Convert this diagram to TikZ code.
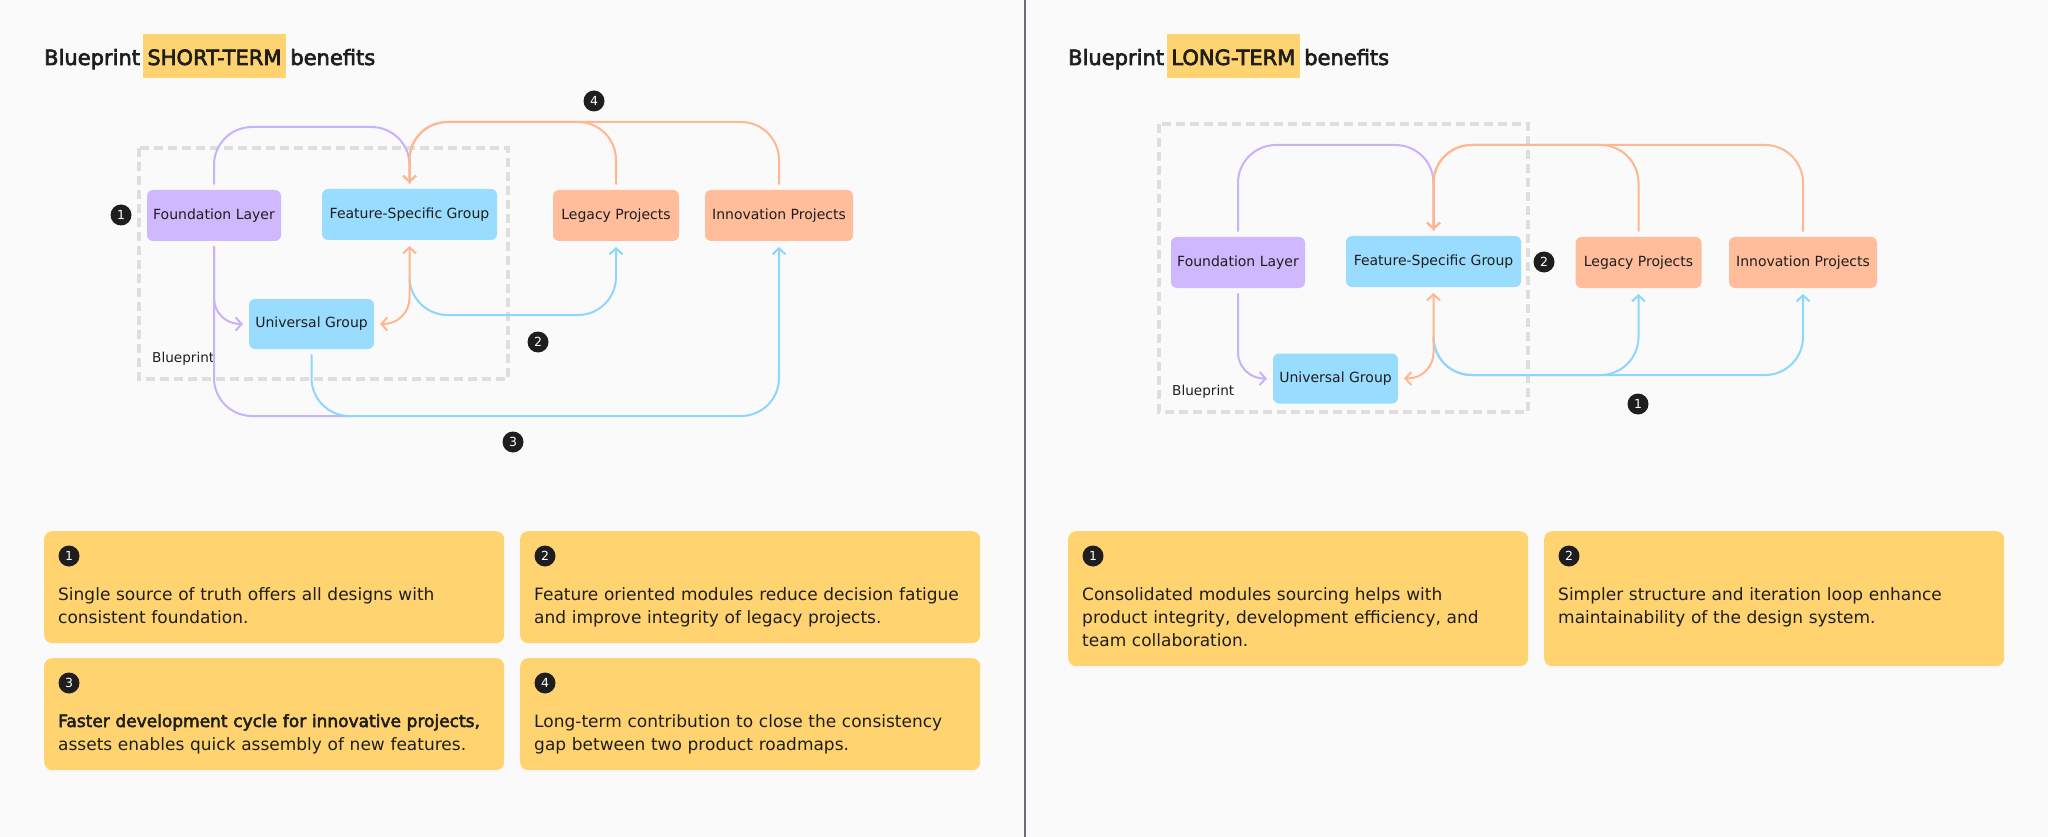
\documentclass[tikz,border=0pt]{standalone}
\usepackage{fontspec}
\setmainfont{DejaVu Sans}[BoldFont={DejaVu Sans},BoldFeatures={FakeBold=3}]
\usetikzlibrary{arrows.meta}
\definecolor{bg}{HTML}{FAFAFA}
\definecolor{purF}{HTML}{CFB8FD}
\definecolor{bluF}{HTML}{99DCFE}
\definecolor{oraF}{HTML}{FFBD9B}
\definecolor{yel}{HTML}{FFD470}
\definecolor{purL}{HTML}{C8B2FA}
\definecolor{bluL}{HTML}{8ED6FC}
\definecolor{oraL}{HTML}{FFB78F}
\definecolor{dashgray}{HTML}{DEDEDE}
\definecolor{ink}{HTML}{1E1E1E}
\definecolor{divc}{HTML}{6C6C78}
\tikzset{
  box/.style={rectangle, rounded corners=6pt, minimum height=51pt, inner sep=0pt, outer sep=6pt, text=ink, font=\fontsize{14}{17}\selectfont},
  conn/.style={line width=2pt, rounded corners=38pt, line cap=round, line join=round},
  arr/.style={-{Straight Barb[length=6pt,width=13pt]}},
  arrs/.style={{Straight Barb[length=6pt,width=13pt]}-{Straight Barb[length=6pt,width=13pt]}},
  badge/.style={circle, fill=ink, text=white, minimum size=21pt, inner sep=0pt, font=\fontsize{12.5}{13}\selectfont},
  dashbox/.style={draw=dashgray, line width=3.5pt, dash pattern=on 9pt off 5pt},
  lbl/.style={anchor=west, inner sep=0pt, text=ink, font=\fontsize{13.6}{16}\selectfont},
  title/.style={anchor=base west, inner sep=0pt, text=ink, font=\fontsize{21}{24}\selectfont\bfseries},
  hl/.style={fill=yel, inner xsep=4.5pt, inner ysep=0pt, text height=31pt, text depth=13pt},
  card/.style={rectangle, fill=yel, rounded corners=8pt, inner sep=0pt},
  ctext/.style={anchor=base west, inner sep=0pt, text=ink, align=left, text width=440pt, font=\fontsize{17}{23}\selectfont},
}
\begin{document}
\begin{tikzpicture}[x=1pt,y=-1pt]
\useasboundingbox[fill=bg] (0,0) rectangle (2048,837);
\draw[divc, line width=2pt] (1025,0) -- (1025,837);

% ---------- left panel ----------
\node[title] (tl1) at (44,65) {Blueprint};
\node[title, hl] (tl2) at ([xshift=2.5pt]tl1.base east) {SHORT-TERM};
\node[title] (tl3) at ([xshift=4pt]tl2.base east) {benefits};

\draw[dashbox] (139,148) rectangle (508,379);
\node[lbl] (bp1) at (152,359) {Blueprint};

\node[box, fill=purF, minimum width=134pt] (FL1) at (214,215.5) {Foundation Layer};
\node[box, fill=bluF, minimum width=175pt] (FS1) at (409.5,214.5) {Feature-Specific Group};
\node[box, fill=oraF, minimum width=126pt] (LP1) at (616,215.5) {Legacy Projects};
\node[box, fill=oraF, minimum width=148pt] (IP1) at (779,215.5) {Innovation Projects};
\node[box, fill=bluF, minimum width=125pt, minimum height=50pt] (UG1) at (311.5,324) {Universal Group};

\draw[conn, purL] (FL1.north) -- ++(0,-57) -| (FS1.north);
\draw[conn, oraL, arr] (LP1.north) -- ++(0,-62) -| (FS1.north);
\draw[conn, oraL, arr] (IP1.north) -- ++(0,-62) -| (FS1.north);
\draw[conn, purL] (FL1.south) -- ++(0,169) -- ++(138,0);
\draw[conn, purL, arr, rounded corners=26pt] (FL1.south) |- (UG1.west);
\draw[conn, bluL, arr] (UG1.south) -- ++(0,61) -| (IP1.south);
\draw[conn, bluL, arr] (FS1.south) ++(0,31) -- ++(0,38) -| (LP1.south);
\draw[conn, oraL, arrs, rounded corners=26pt] (FS1.south) |- (UG1.east);

\node[badge] (n1a) at (121,215) {1};
\node[badge] (n4a) at (594,101) {4};
\node[badge] (n2a) at (538,342) {2};
\node[badge] (n3a) at (513,442) {3};

\node[card, minimum width=460pt, minimum height=112pt, anchor=north west] (c1) at (44,531) {};
\node[card, minimum width=460pt, minimum height=112pt, anchor=north west] (c2) at (520,531) {};
\node[card, minimum width=460pt, minimum height=112pt, anchor=north west] (c3) at (44,658) {};
\node[card, minimum width=460pt, minimum height=112pt, anchor=north west] (c4) at (520,658) {};
\node[badge] (cb1) at (69,556) {1};
\node[badge] (cb2) at (545,556) {2};
\node[badge] (cb3) at (69,683) {3};
\node[badge] (cb4) at (545,683) {4};
\node[ctext] (ct1) at (58,600) {Single source of truth offers all designs with\\consistent foundation.};
\node[ctext] (ct2) at (534,600) {Feature oriented modules reduce decision fatigue\\and improve integrity of legacy projects.};
\node[ctext] (ct3) at (58,727) {\textbf{Faster development cycle for innovative projects,}\\assets enables quick assembly of new features.};
\node[ctext] (ct4) at (534,727) {Long-term contribution to close the consistency\\gap between two product roadmaps.};

% ---------- right panel ----------
\node[title] (tr1) at (1068,65) {Blueprint};
\node[title, hl] (tr2) at ([xshift=2.5pt]tr1.base east) {LONG-TERM};
\node[title] (tr3) at ([xshift=4pt]tr2.base east) {benefits};

\draw[dashbox] (1159,124) rectangle (1528,412);
\node[lbl] (bp2) at (1172,392) {Blueprint};

\node[box, fill=purF, minimum width=134pt] (FL2) at (1238,262.5) {Foundation Layer};
\node[box, fill=bluF, minimum width=175pt] (FS2) at (1433.5,261.5) {Feature-Specific Group};
\node[box, fill=oraF, minimum width=126pt] (LP2) at (1638.5,262.5) {Legacy Projects};
\node[box, fill=oraF, minimum width=148pt] (IP2) at (1803,262.5) {Innovation Projects};
\node[box, fill=bluF, minimum width=125pt, minimum height=50pt] (UG2) at (1335.5,378.5) {Universal Group};

\draw[conn, purL] (FL2.north) -- ++(0,-86) -| (FS2.north);
\draw[conn, oraL, arr] (LP2.north) -- ++(0,-86) -| (FS2.north);
\draw[conn, oraL, arr] (IP2.north) -- ++(0,-86) -| (FS2.north);
\draw[conn, purL, arr, rounded corners=26pt] (FL2.south) |- (UG2.west);
\draw[conn, bluL, arr] (FS2.south) ++(0,44) -- ++(0,38) -| (LP2.south);
\draw[conn, bluL, arr] (FS2.south) ++(0,44) -- ++(0,38) -| (IP2.south);
\draw[conn, oraL, arrs, rounded corners=26pt] (FS2.south) |- (UG2.east);

\node[badge] (n2b) at (1544,262) {2};
\node[badge] (n1b) at (1638,404) {1};

\node[card, minimum width=460pt, minimum height=135pt, anchor=north west] (d1) at (1068,531) {};
\node[card, minimum width=460pt, minimum height=135pt, anchor=north west] (d2) at (1544,531) {};
\node[badge] (db1) at (1093,556) {1};
\node[badge] (db2) at (1569,556) {2};
\node[ctext] (dt1) at (1082,600) {Consolidated modules sourcing helps with\\product integrity, development efficiency, and\\team collaboration.};
\node[ctext] (dt2) at (1558,600) {Simpler structure and iteration loop enhance\\maintainability of the design system.};
\end{tikzpicture}
\end{document}
